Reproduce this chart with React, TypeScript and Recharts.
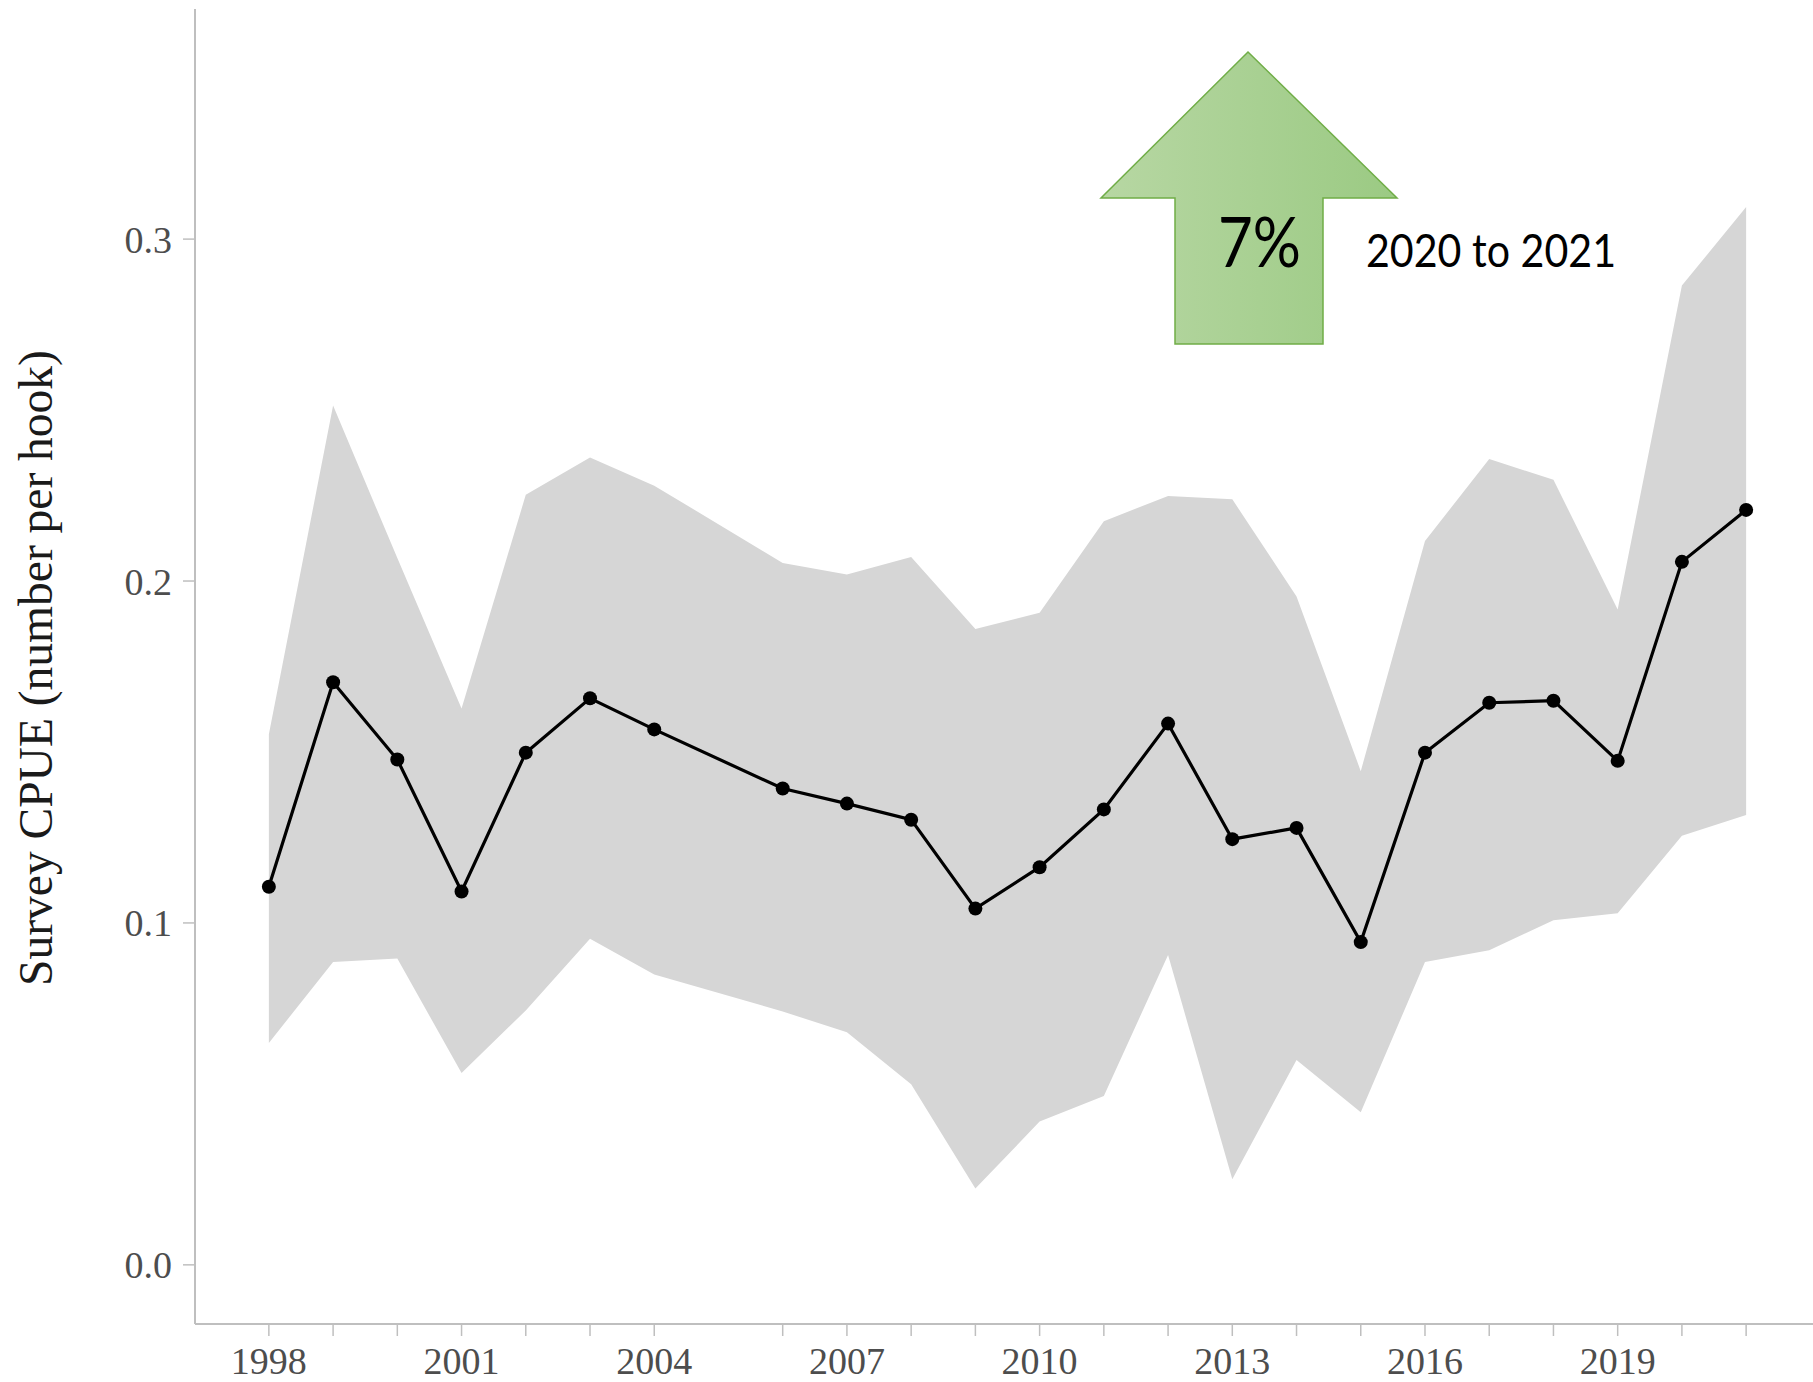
import React from "react";
import { Area, ComposedChart, Line, XAxis, YAxis } from "recharts";

// survey years (2005 has no survey)
const years = [
  1998, 1999, 2000, 2001, 2002, 2003, 2004, 2006, 2007, 2008, 2009, 2010,
  2011, 2012, 2013, 2014, 2015, 2016, 2017, 2018, 2019, 2020, 2021,
];
const cpue = [
  0.1106, 0.1704, 0.1478, 0.1092, 0.1498, 0.1657, 0.1566, 0.1393, 0.1349,
  0.1302, 0.1042, 0.1163, 0.1332, 0.1583, 0.1245, 0.1278, 0.0944, 0.1498,
  0.1644, 0.165, 0.1474, 0.2056, 0.2208,
];
const upper = [
  0.1552, 0.2513, 0.2067, 0.1627, 0.2252, 0.2361, 0.2279, 0.2053, 0.2019,
  0.207, 0.186, 0.1907, 0.2175, 0.2249, 0.2239, 0.1955, 0.1444, 0.2117,
  0.2357, 0.2296, 0.1917, 0.2864, 0.3094,
];
const lower = [
  0.0649, 0.0886, 0.0896, 0.0561, 0.0744, 0.0954, 0.0849, 0.0741, 0.068,
  0.0528, 0.0223, 0.0419, 0.0494, 0.0906, 0.025, 0.0599, 0.0446, 0.0886,
  0.092, 0.1008, 0.1028, 0.1255, 0.1316,
];
const labelYears = [1998, 2001, 2004, 2007, 2010, 2013, 2016, 2019];
const yTicks = [0, 0.1, 0.2, 0.3];

const data = years.map((year, i) => ({
  year,
  cpue: cpue[i],
  band: [lower[i], upper[i]],
}));

const xDomain = [1996.85, 2022.15];
const yDomain = [-0.0173, 0.3673];
const frame = "#bfbfbf";
const serif = "'Liberation Serif', 'Times New Roman', serif";

function YearTick(props: any) {
  const { x, y, payload } = props;
  if (!labelYears.includes(payload.value)) return <g />;
  return (
    <text
      x={x}
      y={y}
      dy="0.71em"
      textAnchor="middle"
      fill="#4d4d4d"
      fontSize={38}
      fontFamily={serif}
    >
      {payload.value}
    </text>
  );
}

export default function App() {
  return (
    <div
      style={{
        position: "absolute",
        left: 0,
        top: 0,
        width: 1813,
        height: 1382,
        overflow: "hidden",
        background: "#fff",
      }}
    >
      <ComposedChart
        width={1830}
        height={1382}
        data={data}
        margin={{ top: 9, right: 10, bottom: 0, left: 0 }}
      >
        <XAxis
          dataKey="year"
          type="number"
          domain={xDomain}
          allowDataOverflow
          ticks={years}
          interval={0}
          tick={<YearTick />}
          tickSize={12}
          tickMargin={11}
          height={58}
          axisLine={{ stroke: frame, strokeWidth: 2 }}
          tickLine={{ stroke: frame, strokeWidth: 1.5 }}
        />
        <XAxis
          xAxisId="top"
          orientation="top"
          type="number"
          domain={xDomain}
          allowDataOverflow
          height={0}
          tick={false}
          tickLine={false}
          axisLine={{ stroke: frame, strokeWidth: 2 }}
        />
        <YAxis
          type="number"
          domain={yDomain}
          allowDataOverflow
          ticks={yTicks}
          width={195}
          tickSize={12}
          tickMargin={11}
          tickFormatter={(v: number) => v.toFixed(1)}
          tick={{ fill: "#4d4d4d", fontSize: 38, fontFamily: serif }}
          axisLine={{ stroke: frame, strokeWidth: 2 }}
          tickLine={{ stroke: frame, strokeWidth: 1.5 }}
        />
        <Area
          type="linear"
          dataKey="band"
          stroke="none"
          fill="#d6d6d6"
          fillOpacity={1}
          isAnimationActive={false}
          activeDot={false}
        />
        <Line
          type="linear"
          dataKey="cpue"
          stroke="#000"
          strokeWidth={3.2}
          dot={{ r: 7, fill: "#000", stroke: "none" }}
          activeDot={false}
          isAnimationActive={false}
        />
      </ComposedChart>

      <svg
        width={1813}
        height={1382}
        style={{ position: "absolute", left: 0, top: 0, pointerEvents: "none" }}
      >
        <defs>
          <linearGradient id="arrowFill" x1="0" y1="0" x2="1" y2="0">
            <stop offset="0%" stopColor="#b7d7a3" />
            <stop offset="100%" stopColor="#9bca83" />
          </linearGradient>
        </defs>
        <text
          transform="translate(52,668) rotate(-90)"
          textAnchor="middle"
          fontFamily={serif}
          fontSize={47.5}
          fill="#1a1a1a"
        >
          Survey CPUE (number per hook)
        </text>
        <polygon
          points="1248,52 1397,198 1323,198 1323,344 1175,344 1175,198 1101,198"
          fill="url(#arrowFill)"
          stroke="#70ad47"
          strokeWidth={1.5}
        />
        <text
          x={1218}
          y={267}
          fontFamily="Lato, 'Open Sans', sans-serif"
          fontSize={70}
          fill="#000"
          textLength={83}
          lengthAdjust="spacingAndGlyphs"
        >
          7%
        </text>
        <text
          x={1366}
          y={267}
          fontFamily="Lato, 'Open Sans', sans-serif"
          fontSize={46}
          fill="#000"
          textLength={250}
          lengthAdjust="spacingAndGlyphs"
        >
          2020 to 2021
        </text>
      </svg>
    </div>
  );
}
